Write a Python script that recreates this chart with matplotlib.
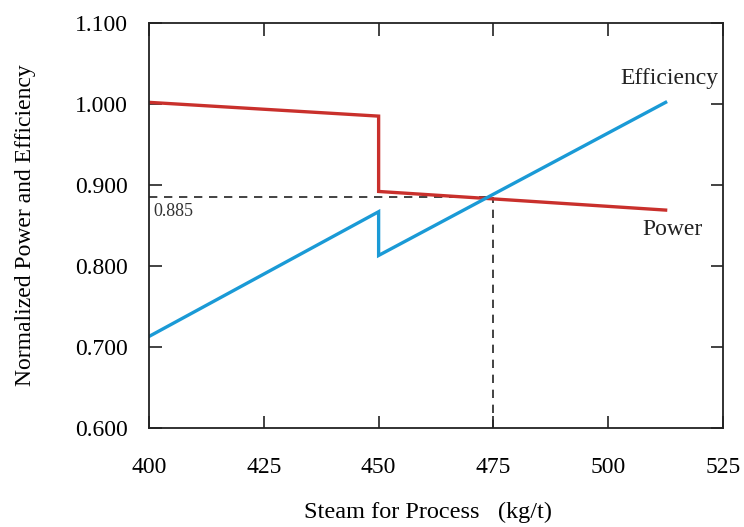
import matplotlib
matplotlib.use("Agg")
import matplotlib.pyplot as plt

plt.rcParams['font.family'] = ['Liberation Serif', 'DejaVu Serif']

# Data
power_x = [400, 450, 450, 512.5]
power_y = [1.002, 0.985, 0.892, 0.869]
eff_x = [400, 450, 450, 512.5]
eff_y = [0.713, 0.867, 0.813, 1.002]
cross_x = 475
cross_y = 0.885
x_ticks = [400, 425, 450, 475, 500, 525]
y_ticks = [0.6, 0.7, 0.8, 0.9, 1.0, 1.1]

fig = plt.figure(figsize=(7.44, 5.27), dpi=100)
ax = fig.add_axes([0.2003, 0.1879, 0.7715, 0.7685])

ax.plot([400, cross_x], [cross_y, cross_y], color='#222222', lw=1.2, ls=(0, (5, 4)))
ax.plot([cross_x, cross_x], [0.6, cross_y], color='#222222', lw=1.2, ls=(0, (5, 4)))
ax.plot(power_x, power_y, color='#c9302c', lw=2.4, solid_joinstyle='miter')
ax.plot(eff_x, eff_y, color='#1a9ad6', lw=2.4, solid_joinstyle='miter')

ax.set_xlim(400, 525)
ax.set_ylim(0.6, 1.1)
ax.set_xticks(x_ticks)
ax.set_yticks(y_ticks)
ax.set_yticklabels([f"{v:.3f}" for v in y_ticks])
ax.tick_params(direction='in', length=9, width=1.2, top=True, right=True,
               labelsize=17, color='#222222')
ax.tick_params(axis='x', pad=21)
ax.tick_params(axis='y', pad=15)
for s in ax.spines.values():
    s.set_linewidth(1.3)
    s.set_color('#222222')

ax.set_xlabel('Steam for Process   (kg/t)', fontsize=17.5, labelpad=20)
ax.xaxis.set_label_coords(0.486, -0.183)
ax.set_ylabel('Normalized Power and Efficiency', fontsize=17, labelpad=28)

ax.text(401, 0.878, '0.885', fontsize=13, ha='left', va='top', color='#333333')
ax.text(524, 1.019, 'Efficiency', fontsize=17, ha='right', va='bottom', color='#222222')
ax.text(520.5, 0.832, 'Power', fontsize=17, ha='right', va='bottom', color='#222222')

fig.savefig('out.png', dpi=100)
